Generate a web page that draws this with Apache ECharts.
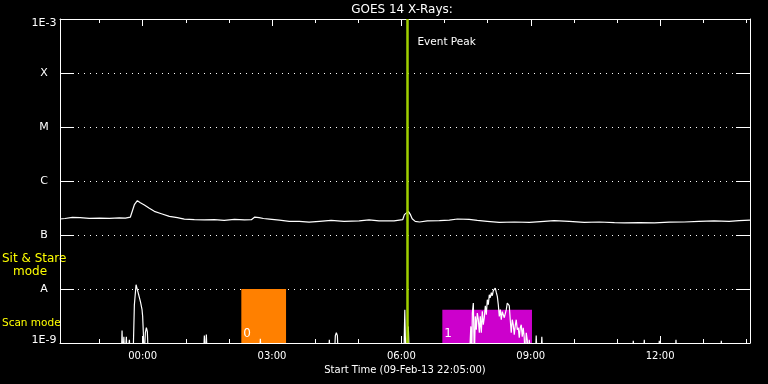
<!DOCTYPE html>
<html><head><meta charset="utf-8">
<script src="https://cdn.jsdelivr.net/npm/echarts@6/dist/echarts.min.js"></script>
<style>html,body{margin:0;padding:0;background:#000}#c{width:768px;height:384px}</style>
</head><body><div id="c"></div>
<script>
// ---------- data ----------
const chartTitle = 'GOES 14 X-Rays:';
const xAxisTitle = 'Start Time (09-Feb-13 22:05:00)';
const startHour = -115 / 60;          // 22:05 on 09-Feb-13, hours relative to 10-Feb 00:00
const endHour = 14 + 5 / 60;          // 14:05 on 10-Feb-13
const fluxMin = 1e-9, fluxMax = 1e-3;
const yTickLabels = ['1E-9', 'A', 'B', 'C', 'M', 'X', '1E-3'];
const xMajorHours = [0, 3, 6, 9, 12];
const xMinorHours = [-1, 0, 1, 2, 3, 4, 5, 6, 7, 8, 9, 10, 11, 12, 13, 14];
const eventPeakHour = 6.14;
const eventPeakText = 'Event Peak';
const modeLabels = ['Sit & Stare', 'mode', 'Scan mode'];

const longHours = [-1.917, -1.80, -1.63, -1.45, -1.24, -1.00, -0.77, -0.54, -0.40, -0.285, -0.239, -0.192, -0.123, -0.053,
  0.039, 0.155, 0.271, 0.434, 0.619, 0.805, 0.966, 1.198, 1.43, 1.66, 1.89, 2.13, 2.36, 2.52, 2.60, 2.70, 2.80, 2.94,
  3.17, 3.40, 3.63, 3.86, 4.10, 4.37, 4.67, 5.02, 5.25, 5.48, 5.83, 6.03, 6.07, 6.10, 6.16, 6.21, 6.25, 6.32, 6.42,
  6.60, 6.88, 7.11, 7.30, 7.57, 7.76, 7.99, 8.27, 8.62, 8.97, 9.31, 9.54, 9.89, 10.24, 10.59, 10.94, 11.17, 11.52,
  11.87, 12.21, 12.56, 12.90, 13.25, 13.60, 13.83, 14.083];
const longFlux = [1.98e-7, 2.02e-7, 2.12e-7, 2.09e-7, 2.03e-7, 2.06e-7, 2.03e-7, 2.07e-7, 2.06e-7, 2.15e-7, 2.3e-7, 3.64e-7, 4.32e-7, 3.96e-7,
  3.6e-7, 3.13e-7, 2.74e-7, 2.48e-7, 2.21e-7, 2.09e-7, 1.97e-7, 1.92e-7, 1.9e-7, 1.92e-7, 1.86e-7, 1.95e-7, 1.9e-7, 1.92e-7, 2.15e-7, 2.1e-7, 2.02e-7, 1.97e-7,
  1.88e-7, 1.79e-7, 1.79e-7, 1.73e-7, 1.79e-7, 1.86e-7, 1.79e-7, 1.82e-7, 1.9e-7, 1.82e-7, 1.82e-7, 1.92e-7, 2.38e-7, 2.45e-7, 2.74e-7, 2.38e-7, 2.0e-7, 1.79e-7, 1.74e-7,
  1.82e-7, 1.84e-7, 1.88e-7, 1.98e-7, 1.95e-7, 1.86e-7, 1.79e-7, 1.71e-7, 1.74e-7, 1.71e-7, 1.79e-7, 1.84e-7, 1.79e-7, 1.71e-7, 1.74e-7, 1.69e-7, 1.67e-7, 1.69e-7,
  1.67e-7, 1.73e-7, 1.74e-7, 1.79e-7, 1.82e-7, 1.79e-7, 1.84e-7, 1.88e-7];

const shortHours = [-1.917, -0.494, -0.478, -0.459, -0.436, -0.413, -0.378, -0.355, -0.308, -0.285, -0.223, -0.192, -0.153, -0.123,
  -0.093, -0.053, -0.014, 0, 0.016, 0.032, 0.063, 0.086, 0.109, 0.132, 1.407, 1.431, 1.454, 1.477, 1.5, 2.706, 2.729, 2.752,
  4.306, 4.329, 4.352, 4.445, 4.468, 4.492, 4.515, 4.538, 6.056, 6.079, 6.102, 6.145, 6.160, 6.183,
  7.575, 7.610, 7.630, 7.645, 7.668, 7.691, 7.714, 7.737, 7.760, 7.784, 7.807, 7.830, 7.853, 7.876, 7.899, 7.922, 7.946, 7.969,
  7.992, 8.015, 8.038, 8.061, 8.085, 8.108, 8.131, 8.154, 8.177, 8.200, 8.224, 8.247, 8.270, 8.293, 8.316, 8.339, 8.362, 8.386,
  8.409, 8.432, 8.455, 8.478, 8.501, 8.524, 8.547, 8.571, 8.594, 8.617, 8.640, 8.663, 8.687, 8.710, 8.733, 8.756, 8.779, 8.802,
  8.825, 8.848, 8.871, 8.895, 8.918, 8.941, 8.964, 8.987, 9.010, 9.103, 9.126, 9.149, 9.233, 9.256, 9.279,
  11.354, 11.377, 11.40, 11.609, 11.632, 11.655, 11.957, 11.980, 12.003, 12.344, 12.367, 12.390, 13.395, 13.418, 13.44, 14.083];
const shortFlux = [5e-10, 5e-10, 1.71e-9, 5e-10, 1.31e-9, 5e-10, 1.31e-9, 5e-10, 1.15e-9, 5e-10, 5e-10, 5.12e-9, 1.2e-8, 9.7e-9,
  7.84e-9, 5.9e-9, 4.14e-9, 3.11e-9, 1.55e-9, 5e-10, 1.55e-9, 1.92e-9, 1.62e-9, 5e-10, 5e-10, 1.37e-9, 5e-10, 1.43e-9, 5e-10, 5e-10, 1.2e-9, 5e-10,
  5e-10, 1.15e-9, 5e-10, 5e-10, 1.37e-9, 1.55e-9, 1.37e-9, 5e-10, 5e-10, 4.14e-9, 5e-10, 5e-10, 2.03e-9, 5e-10,
  5e-10, 2.03e-9, 5e-10, 3.59e-9, 5.5e-9, 5e-10, 3.11e-9, 1.76e-9, 3.59e-9, 2.7e-9, 1.55e-9, 3.11e-9, 1.55e-9, 3.85e-9, 2.18e-9, 2.94e-9, 4.9e-9, 3.34e-9,
  6.34e-9, 5.12e-9, 7.84e-9, 6.9e-9, 8.54e-9, 7.5e-9, 9.3e-9, 9.7e-9, 1.04e-8, 8.65e-9, 7.3e-9, 5.12e-9, 3.11e-9, 4.14e-9, 2.7e-9, 3.8e-9, 3.85e-9, 2.94e-9,
  3.11e-9, 4.14e-9, 5.5e-9, 5.74e-9, 4.9e-9, 2.7e-9, 1.55e-9, 2.7e-9, 2.18e-9, 1.43e-9, 2.09e-9, 2.7e-9, 1.76e-9, 1.92e-9, 1.25e-9, 1.92e-9, 2.18e-9, 1.31e-9,
  1.92e-9, 1.25e-9, 5e-10, 1.55e-9, 1.15e-9, 5e-10, 1.15e-9, 1.25e-9, 5e-10, 5e-10, 1.37e-9, 5e-10, 5e-10, 1.31e-9, 5e-10,
  5e-10, 1.1e-9, 5e-10, 5e-10, 1.15e-9, 5e-10, 5e-10, 1.1e-9, 5e-10, 5e-10, 1.15e-9, 5e-10, 5e-10, 1.1e-9, 5e-10, 5e-10];

// scan windows (instrument mode boxes)
const scanStart = [2.288, 6.949];
const scanEnd = [3.325, 9.028];
const scanTop = [1e-8, 4.14e-9];
const scanLabel = ['0', '1'];

// ---------- styles ----------
const FONT = '"DejaVu Sans", sans-serif';
const WHITE = '#ffffff';
const YELLOW = '#ffff00';
const PEAK_GREEN = '#a0d000';
const scanColors = ['#ff8000', '#cc00cc'];

const chart = echarts.init(document.getElementById('c'), null, { renderer: 'canvas' });

function hourLabel(v) {
  const h = ((Math.round(v) % 24) + 24) % 24;
  return (h < 10 ? '0' : '') + h + ':00';
}
function fluxLabel(v) {
  const idx = Math.round(Math.log10(v)) + 9;
  const txt = yTickLabels[idx] !== undefined ? yTickLabels[idx] : '';
  if (idx === yTickLabels.length - 1) return '{hi|' + txt + '}';
  if (idx === 0) return '{lo|' + txt + '}';
  return txt;
}

const baseX = { type: 'value', min: startHour, max: endHour, gridIndex: 0, splitLine: { show: false } };
const baseY = { type: 'log', logBase: 10, min: fluxMin, max: fluxMax, splitNumber: 6, gridIndex: 0 };
const solidAxisLine = { show: true, onZero: false, lineStyle: { color: WHITE, width: 1 } };
const hiddenAxisLine = { show: false, onZero: false };
const yLabelText = { color: WHITE, fontSize: 11, fontFamily: FONT };

const option = {
  backgroundColor: '#000',
  animation: false,
  grid: { left: 60, right: 18, top: 19, bottom: 41, containLabel: false },
  xAxis: [
    Object.assign({}, baseX, {
      position: 'bottom',
      axisLine: solidAxisLine,
      axisTick: { show: true, inside: true, length: 7, customValues: xMajorHours, lineStyle: { color: WHITE } },
      axisLabel: { show: true, customValues: xMajorHours, formatter: hourLabel, color: WHITE, fontSize: 10, fontFamily: FONT, margin: 8 },
      name: xAxisTitle, nameLocation: 'middle', nameGap: 21,
      nameTextStyle: { color: WHITE, fontSize: 10, fontFamily: FONT }
    }),
    Object.assign({}, baseX, {
      position: 'bottom',
      axisLine: hiddenAxisLine,
      axisTick: { show: true, inside: true, length: 4, customValues: xMinorHours, lineStyle: { color: WHITE } },
      axisLabel: { show: false }
    }),
    Object.assign({}, baseX, {
      position: 'top',
      axisLine: solidAxisLine,
      axisTick: { show: true, inside: true, length: 7, customValues: xMajorHours, lineStyle: { color: WHITE } },
      axisLabel: { show: false }
    }),
    Object.assign({}, baseX, {
      position: 'top',
      axisLine: hiddenAxisLine,
      axisTick: { show: true, inside: true, length: 4, customValues: xMinorHours, lineStyle: { color: WHITE } },
      axisLabel: { show: false }
    })
  ],
  yAxis: [
    Object.assign({}, baseY, {
      position: 'left',
      axisLine: solidAxisLine,
      axisTick: { show: true, inside: true, length: 14, lineStyle: { color: WHITE } },
      axisLabel: { show: true, formatter: fluxLabel, color: WHITE, fontSize: 11, fontFamily: FONT,
        align: 'center', margin: 16,
        rich: {
          hi: Object.assign({ padding: [8, 0, 0, 0] }, yLabelText),
          lo: Object.assign({ padding: [0, 0, 6, 0] }, yLabelText)
        } },
      splitLine: { show: true, lineStyle: { color: WHITE, width: 1, type: [1, 5] } }
    }),
    Object.assign({}, baseY, {
      position: 'right',
      axisLine: solidAxisLine,
      axisTick: { show: true, inside: true, length: 14, lineStyle: { color: WHITE } },
      axisLabel: { show: false },
      splitLine: { show: false }
    })
  ],
  series: [
    {
      type: 'custom',
      xAxisIndex: 0, yAxisIndex: 0,
      z: 1,
      encode: { x: [0, 1], y: [2] },
      data: scanStart.map((s, i) => [s, scanEnd[i], scanTop[i], i]),
      renderItem: function (params, api) {
        const i = api.value(3);
        const p1 = api.coord([api.value(0), api.value(2)]);
        const p2 = api.coord([api.value(1), fluxMin]);
        return {
          type: 'group',
          children: [
            { type: 'rect', shape: { x: p1[0], y: p1[1], width: p2[0] - p1[0], height: p2[1] - p1[1] },
              style: { fill: scanColors[i] } },
            { type: 'text', x: p1[0] + 2, y: p2[1] - 3,
              style: { text: scanLabel[i], fill: WHITE, fontSize: 12, fontFamily: FONT, align: 'left', verticalAlign: 'bottom' } }
          ]
        };
      }
    },
    {
      type: 'line', xAxisIndex: 0, yAxisIndex: 0, z: 3,
      showSymbol: false, symbol: 'none', clip: true,
      lineStyle: { color: WHITE, width: 1.2 },
      data: longHours.map((h, i) => [h, longFlux[i]])
    },
    {
      type: 'line', xAxisIndex: 0, yAxisIndex: 0, z: 3,
      showSymbol: false, symbol: 'none', clip: true,
      lineStyle: { color: WHITE, width: 1.2 },
      data: shortHours.map((h, i) => [h, shortFlux[i]])
    },
    {
      type: 'line', xAxisIndex: 0, yAxisIndex: 0, z: 10,
      data: [],
      markLine: {
        silent: true, symbol: ['none', 'none'], animation: false,
        label: { show: false },
        lineStyle: { color: PEAK_GREEN, width: 2.5, type: 'solid' },
        data: [{ xAxis: eventPeakHour }]
      }
    }
  ]
};
chart.setOption(option);

const peakPx = chart.convertToPixel({ xAxisIndex: 0, yAxisIndex: 0 }, [eventPeakHour, fluxMax]);
const gridLeft = chart.convertToPixel({ xAxisIndex: 0, yAxisIndex: 0 }, [startHour, fluxMax]);
const gridRight = chart.convertToPixel({ xAxisIndex: 0, yAxisIndex: 0 }, [endHour, fluxMax]);

chart.setOption({
  graphic: [
    { type: 'text', x: (gridLeft[0] + gridRight[0]) / 2 - 3, y: 10,
      style: { text: chartTitle, fill: WHITE, fontSize: 12, fontFamily: FONT, align: 'center', verticalAlign: 'middle' } },
    { type: 'text', x: peakPx[0] + 10, y: peakPx[1] + 23,
      style: { text: eventPeakText, fill: WHITE, fontSize: 10.5, fontFamily: FONT, align: 'left', verticalAlign: 'middle' } },
    { type: 'text', x: 2, y: 258.5,
      style: { text: modeLabels[0], fill: YELLOW, fontSize: 12, fontFamily: FONT, align: 'left', verticalAlign: 'middle' } },
    { type: 'text', x: 13, y: 271.5,
      style: { text: modeLabels[1], fill: YELLOW, fontSize: 12, fontFamily: FONT, align: 'left', verticalAlign: 'middle' } },
    { type: 'text', x: 2, y: 323,
      style: { text: modeLabels[2], fill: YELLOW, fontSize: 10.5, fontFamily: FONT, align: 'left', verticalAlign: 'middle' } }
  ]
});
</script>
</body></html>
